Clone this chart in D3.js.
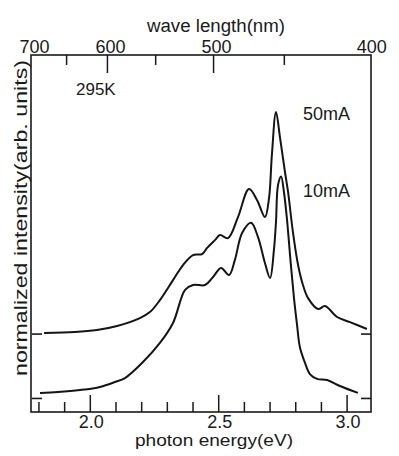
<!DOCTYPE html>
<html>
<head>
<meta charset="utf-8">
<script src="https://cdn.jsdelivr.net/npm/d3@7"></script>
<style>
  body { margin: 0; background: #fff; }
  svg text { font-family: "Liberation Sans", Arial, sans-serif; fill: #1a1a1a; }
</style>
</head>
<body>
<div id="chart"></div>
<script>
// photon energy (eV) and normalized intensity
const energy10 = [1.806, 1.876, 1.962, 2.040, 2.098, 2.137, 2.207, 2.273, 2.324, 2.371,
    2.402, 2.449, 2.480, 2.511, 2.542, 2.565, 2.593, 2.628, 2.655, 2.682,
    2.702, 2.717, 2.725, 2.733, 2.745, 2.756, 2.768, 2.783, 2.795, 2.807,
    2.818, 2.838, 2.857, 2.885, 2.924, 2.974, 3.044];
const intensity10 = [0.025, 0.029, 0.038, 0.052, 0.074, 0.092, 0.164, 0.250, 0.340, 0.489,
    0.511, 0.511, 0.547, 0.588, 0.556, 0.624, 0.745, 0.791, 0.727, 0.610,
    0.543, 0.669, 0.795, 0.962, 1.000, 0.930, 0.804, 0.601, 0.453, 0.331,
    0.232, 0.160, 0.110, 0.088, 0.083, 0.056, 0.025];

const energy50 = [1.822, 1.942, 2.028, 2.106, 2.195, 2.234, 2.273, 2.324, 2.363, 2.402,
    2.437, 2.456, 2.487, 2.507, 2.538, 2.577, 2.620, 2.651, 2.682, 2.698,
    2.709, 2.725, 2.741, 2.760, 2.772, 2.791, 2.811, 2.830, 2.850, 2.889,
    2.916, 2.963, 3.013, 3.079];
const intensity50 = [0.005, 0.009, 0.018, 0.036, 0.072, 0.099, 0.153, 0.243, 0.311, 0.356,
    0.360, 0.387, 0.423, 0.446, 0.432, 0.527, 0.653, 0.604, 0.527, 0.613,
    0.806, 1.000, 0.883, 0.730, 0.640, 0.459, 0.311, 0.221, 0.162, 0.113,
    0.126, 0.077, 0.054, 0.023];

// each curve sits on its own zero level
const seriesNames = ["50mA", "10mA"];
const seriesOffsets = [0.29, 0];

const energyMajor = [2.0, 2.5, 3.0];
const energyMinor = [1.8, 1.9, 2.1, 2.2, 2.3, 2.4, 2.6, 2.7, 2.8, 2.9];
const waveMajor = [700, 600, 500, 400];
const waveMinor = [650, 550, 450];

const width = 399, height = 456;
const plotLeft = 31, plotRight = 371, plotTop = 55, plotBottom = 412;

const svg = d3.select("#chart").append("svg")
    .attr("width", width).attr("height", height);

const x = d3.scaleLinear().domain([1.771, 3.095]).range([plotLeft, plotRight]);
const y = d3.scaleLinear().domain([-0.061, 1.547]).range([plotBottom, plotTop]);

// frame
svg.append("rect")
    .attr("x", plotLeft).attr("y", plotTop)
    .attr("width", plotRight - plotLeft).attr("height", plotBottom - plotTop)
    .attr("fill", "none").attr("stroke", "#1a1a1a").attr("stroke-width", 1.6);

function styleAxis(g) {
    g.select(".domain").remove();
    g.selectAll("line").attr("stroke", "#1a1a1a").attr("stroke-width", 1.5);
    g.selectAll("text").attr("font-size", 18).attr("fill", "#1a1a1a")
        .attr("font-family", "Liberation Sans, Arial, sans-serif");
    // ticks that fall on the frame corners are just the frame
    g.selectAll(".tick line").filter(d => x(d) < plotLeft + 2 || x(d) > plotRight - 2).remove();
}

// bottom: photon energy, ticks inside
svg.append("g").attr("transform", `translate(0,${plotBottom})`)
    .call(d3.axisBottom(x).tickValues(energyMinor).tickSize(-10).tickFormat(""))
    .call(styleAxis);
svg.append("g").attr("transform", `translate(0,${plotBottom})`)
    .call(d3.axisBottom(x).tickValues(energyMajor).tickSize(-17).tickPadding(3)
        .tickFormat(d3.format(".1f")))
    .call(styleAxis)
    .call(g => g.selectAll("text").attr("dx", 1));

// top: wavelength, E = 1240 / lambda
const toE = w => 1240 / w;
svg.append("g").attr("transform", `translate(0,${plotTop})`)
    .call(d3.axisTop(x).tickValues(waveMinor.map(toE)).tickSize(-10).tickFormat(""))
    .call(styleAxis);
svg.append("g").attr("transform", `translate(0,${plotTop})`)
    .call(d3.axisTop(x).tickValues(waveMajor.map(toE)).tickSize(-18).tickPadding(2)
        .tickFormat((d, i) => waveMajor[i]))
    .call(styleAxis)
    .call(g => g.selectAll("text").attr("dx", (d, i) => i === 3 ? -1 : 3));

// zero level markers on both sides
seriesOffsets.forEach(off => {
    svg.append("line")
        .attr("x1", plotLeft + 1).attr("x2", plotLeft + 11)
        .attr("y1", y(off)).attr("y2", y(off))
        .attr("stroke", "#1a1a1a").attr("stroke-width", 1.6);
    svg.append("line")
        .attr("x1", plotRight - 10).attr("x2", plotRight)
        .attr("y1", y(off)).attr("y2", y(off))
        .attr("stroke", "#1a1a1a").attr("stroke-width", 1.6);
});

const line = d3.line()
    .x(d => x(d[0]))
    .y(d => y(d[1]))
    .curve(d3.curveCatmullRom.alpha(0.5));

const curves = [
    d3.zip(energy50, intensity50.map(v => v + seriesOffsets[0])),
    d3.zip(energy10, intensity10.map(v => v + seriesOffsets[1]))
];

svg.selectAll(".curve")
    .data(curves)
    .enter().append("path")
    .attr("class", "curve")
    .attr("d", line)
    .attr("fill", "none")
    .attr("stroke", "#141414")
    .attr("stroke-width", 2)
    .attr("stroke-linejoin", "round");

// labels
svg.append("text")
    .attr("x", 216).attr("y", 32)
    .attr("text-anchor", "middle").attr("font-size", 18)
    .attr("textLength", 138).attr("lengthAdjust", "spacingAndGlyphs")
    .text("wave length(nm)");

svg.append("text")
    .attr("x", 214).attr("y", 446)
    .attr("text-anchor", "middle").attr("font-size", 17)
    .attr("textLength", 158).attr("lengthAdjust", "spacingAndGlyphs")
    .text("photon energy(eV)");

svg.append("text")
    .attr("transform", "translate(27,218) rotate(-90)")
    .attr("text-anchor", "middle").attr("font-size", 18)
    .attr("textLength", 316).attr("lengthAdjust", "spacingAndGlyphs")
    .text("normalized intensity(arb. units)");

svg.append("text")
    .attr("x", 76).attr("y", 95).attr("font-size", 17)
    .text("295K");

svg.selectAll(".series-label")
    .data(seriesNames)
    .enter().append("text")
    .attr("class", "series-label")
    .attr("x", 303)
    .attr("y", (d, i) => [120, 197][i])
    .attr("font-size", 18)
    .text(d => d);
</script>
</body>
</html>
